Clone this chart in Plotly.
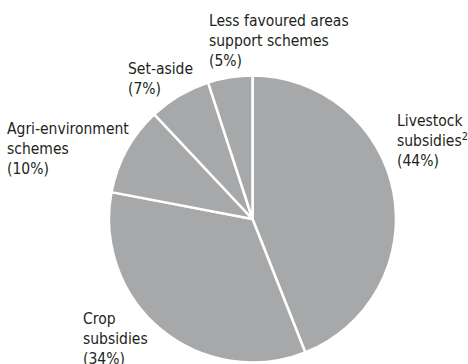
import plotly.graph_objects as go

labels = ["Livestock subsidies", "Crop subsidies", "Agri-environment schemes", "Set-aside", "Less favoured areas support schemes"]
values = [44, 34, 10, 7, 5]
label_texts = [
    "Livestock<br>subsidies<sup>2</sup><br>(44%)",
    "Crop<br>subsidies<br>(34%)",
    "Agri-environment<br>schemes<br>(10%)",
    "Set-aside<br>(7%)",
    "Less favoured areas<br>support schemes<br>(5%)",
]

W, H = 468, 364
cx, cy, r = 252.5, 219, 143.5

# label block anchors (pixel left x, pixel block centre y)
label_pos = [(395, 141), (81, 339), (5, 148.5), (126, 78.5), (207, 40.5)]

fig = go.Figure(go.Pie(
    labels=labels, values=values, sort=False, direction="clockwise", rotation=0,
    textinfo="none", hoverinfo="label+percent",
    marker=dict(colors=["#a7a8aa"] * len(values), line=dict(color="white", width=2.5)),
    domain=dict(x=[(cx - r) / W, (cx + r) / W], y=[(H - cy - r) / H, (H - cy + r) / H]),
    showlegend=False,
))

font = dict(family="DejaVu Sans Condensed, Liberation Sans Narrow, sans-serif", size=15.5, color="#231f20")
for t, (px, py) in zip(label_texts, label_pos):
    fig.add_annotation(text=t, x=px / W, y=1 - py / H, xref="paper", yref="paper",
                       xanchor="left", yanchor="middle", align="left", showarrow=False, font=font)

fig.update_layout(width=W, height=H, margin=dict(l=0, r=0, t=0, b=0),
                  paper_bgcolor="white", plot_bgcolor="white")
fig.write_html("out.html", config={"displayModeBar": False},
               post_script="document.body.style.margin='0';document.body.style.overflow='hidden';")
